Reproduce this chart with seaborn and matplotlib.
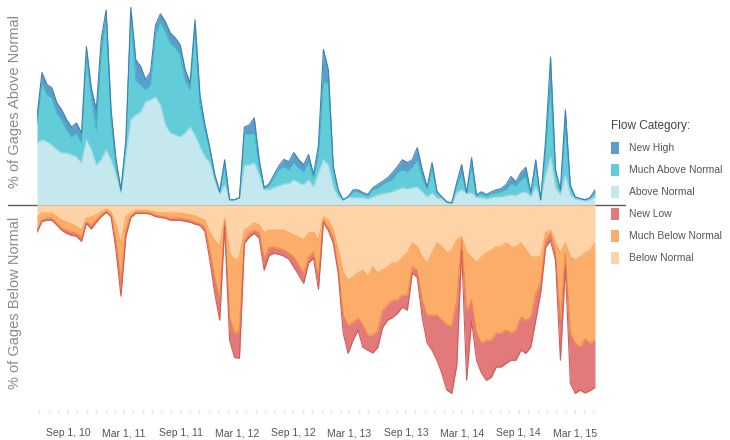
import matplotlib

matplotlib.use("Agg")

import matplotlib.dates as mdates
import matplotlib.pyplot as plt
import pandas as pd
import seaborn as sns
from matplotlib.lines import Line2D
from matplotlib.patches import Patch

START = "2010-05-24"
STEP = "16D"

# % of gages in each category (one value every 16 days)
above_normal = [
    15.5, 16.3, 15.8, 15, 13.8, 13, 13, 12.5, 12, 10.5,
    16.3, 13.8, 10, 11.3, 13.8, 11.3, 7.5, 3, 12.5, 21.3,
    22.5, 23.3, 25.8, 26.3, 27, 25, 20, 18, 17.5, 17,
    18, 19.5, 17.5, 14.5, 12, 10.5, 6.3, 2.8, 5, 1.3,
    1.3, 1.8, 10, 10, 10.5, 7.5, 3.8, 3.8, 4.3, 4.8,
    5.3, 5.3, 6.3, 5.5, 5, 6.3, 4.5, 8, 11.3, 10,
    4.5, 2, 1.3, 2, 1.8, 1.8, 1.8, 1.5, 2, 2.5,
    2.8, 3, 3.3, 3.8, 4.3, 4, 4.3, 4.5, 3.3, 2,
    3, 1.8, 1.5, 0.5, 0.5, 3, 3.8, 3, 3, 1.8,
    1.8, 1.5, 1.8, 2, 2, 2.3, 2.5, 2.3, 3, 3.3,
    2, 4.5, 1.3, 7.5, 12, 4.3, 2.5, 7.5, 2.5, 1.5,
    1.3, 1, 1.3, 2,
]
much_above = [
    5, 14.3, 11.8, 11.8, 9.3, 8.3, 5.8, 4.5, 6, 5,
    20.8, 13, 8.8, 26.3, 33, 10, 2.5, 0.5, 2.5, 26.3,
    8.8, 6.8, 3, 3.8, 15.5, 20.8, 23.3, 22.5, 21.8, 20.5,
    13.3, 9.3, 26.8, 10.5, 6.8, 3.3, 0.5, 0.3, 5, 0,
    0, 0, 8, 7.5, 7.5, 2.5, 0.3, 1, 2.5, 4,
    4.3, 3.5, 4.3, 3.8, 3.3, 4.3, 2.3, 4.5, 19.3, 20.5,
    4.3, 1.5, 0, 0, 1.5, 1.5, 1, 0.8, 1.8, 1.8,
    2.3, 2.8, 3, 4.3, 4.5, 4.3, 5, 6.8, 3.8, 2,
    5.8, 1.3, 0.5, 0.3, 0, 1.8, 3.8, 0, 6.5, 0.5,
    1, 0.8, 1, 1, 1.3, 1.5, 2.8, 2.5, 3.3, 3.8,
    0.8, 5.5, 0, 6.3, 18, 4, 1, 12.5, 2, 0.5,
    0.3, 0.3, 0.5, 1,
]
new_high = [
    1.5, 2.5, 2.5, 2.5, 2.5, 2.5, 2.5, 2.5, 2.5, 2.5,
    2.5, 2.5, 5, 3.8, 2, 2.5, 1.3, 0.3, 1.3, 1.8,
    5, 4.5, 2.5, 3.3, 2.5, 2, 2.5, 2.5, 2.5, 2.5,
    2.5, 1.8, 2, 2.5, 1.3, 0.5, 0.8, 0.3, 1.3, 0,
    0, 0, 1.5, 2.5, 3.8, 1.3, 0.3, 0.5, 0.8, 1,
    1.8, 2, 2.5, 2, 1.8, 2, 0.8, 2.5, 8.3, 3.3,
    0.8, 0.3, 0, 0, 0.5, 0.5, 0.3, 0.3, 0.5, 0.8,
    0.8, 1, 1.8, 1.5, 2.5, 2.3, 2, 3, 1.8, 0.5,
    1.8, 0.3, 0, 0, 0, 0.8, 2.5, 0, 2.3, 0.3,
    0.5, 0.3, 0.5, 0.8, 0.8, 1.3, 1.8, 1, 1.8, 2.3,
    0.3, 1.3, 0, 2.5, 7, 0.5, 0.3, 3.8, 0.5, 0,
    0, 0, 0, 0.8,
]
below_normal = [
    3, 2, 2, 2, 3, 3.8, 4.3, 4.8, 5.5, 6.3,
    3.3, 3, 2.5, 1.8, 1, 1.8, 5, 10, 3, 2,
    1.3, 1.3, 1.3, 1.5, 1.8, 2, 2, 2, 2, 2,
    2.3, 2.5, 2.8, 3.3, 3.8, 7, 8.8, 10.5, 3.3, 12,
    13.8, 13, 6.3, 5.5, 4.5, 5, 7, 6.3, 6.3, 6.3,
    6.3, 7, 7.5, 8, 8.8, 7, 6.8, 8.8, 3, 3.8,
    6.3, 11.3, 17, 18.8, 18, 17, 16.3, 18, 15.5, 17,
    16.3, 15.5, 14.5, 14.5, 13, 12, 9.5, 10.5, 13, 14.5,
    12, 9.5, 10.5, 12, 11.3, 8.8, 8, 12, 13, 14.5,
    13, 12, 11.3, 10.5, 10.5, 9.5, 10.5, 10.5, 9.5, 11.3,
    13, 13, 13, 7, 6.3, 9.5, 12, 9.5, 13, 13.8,
    13, 12, 11.3, 9.5,
]
much_below = [
    3.3, 1.8, 1.3, 1.3, 1.5, 2, 2, 2, 1.5, 1.8,
    1, 2, 1.3, 0.8, 0.5, 0.8, 3.8, 8.8, 3.3, 0.8,
    0.5, 0.5, 0.5, 0.5, 0.8, 0.8, 1, 1.3, 1.3, 1.3,
    1.3, 1.3, 1.5, 1.3, 1.8, 4.3, 9.3, 13.3, 1, 16,
    18.3, 18.3, 2.5, 1.5, 1.8, 1.8, 6.3, 4.3, 4.3, 4.5,
    5, 5, 5.5, 7, 8.3, 6, 5, 9.3, 0.8, 1.8,
    1.8, 4.3, 10.5, 11.3, 11.3, 11.3, 13.8, 14.5, 17, 14.3,
    10, 9.5, 9.3, 9.3, 9.5, 10.5, 6, 5.8, 10.8, 13,
    15.5, 18, 18.3, 18, 18.8, 15, 0.8, 14.3, 10.8, 17.5,
    21.5, 21.8, 22.5, 21.5, 21.5, 21.8, 21.5, 20.8, 18.5, 17.5,
    15, 9, 6.5, 1.8, 0.8, 2.5, 16.8, 2.5, 19, 20.8,
    22.5, 21.5, 23.3, 24.3,
]
new_low = [
    0.5, 0.3, 0.5, 0.5, 0.5, 0.5, 0.8, 0.8, 0.8, 1,
    0.3, 1, 0.5, 0.3, 0.3, 0.3, 2.5, 4, 1.5, 0.3,
    0.3, 0.3, 0.3, 0.3, 0.3, 0.3, 0.3, 0.5, 0.5, 0.5,
    0.5, 0.5, 0.5, 0.5, 1, 2.5, 4, 5, 1, 5.8,
    6, 7, 0.8, 1, 0.8, 1.5, 3, 2, 1.5, 1.5,
    1.5, 1.5, 2.5, 2.5, 2.5, 1.5, 1.5, 3, 0.5, 0.8,
    1.5, 1.5, 4.5, 7, 4.5, 3, 5.5, 3.8, 4.5, 4.3,
    4.3, 3.8, 4.3, 3.3, 3, 3.8, 1.5, 1.8, 4.3, 7,
    8.8, 11.3, 13.3, 16.3, 17, 16.3, 2.5, 17.5, 5, 6.8,
    7.5, 10, 9.3, 8.5, 8.5, 8.3, 6.8, 7.5, 8.3, 8.3,
    7.5, 6.8, 2.5, 1.8, 1.8, 1.8, 10, 3.5, 12.5, 12.5,
    10.8, 13.5, 11.8, 11.8,
]

TICK_DATES = [
    "2010-09-01", "2011-03-01", "2011-09-01", "2012-03-01", "2012-09-01",
    "2013-03-01", "2013-09-01", "2014-03-01", "2014-09-01", "2015-03-01",
]
TICK_LABELS = [
    "Sep 1, 10", "Mar 1, 11", "Sep 1, 11", "Mar 1, 12", "Sep 1, 12",
    "Mar 1, 13", "Sep 1, 13", "Mar 1, 14", "Sep 1, 14", "Mar 1, 15",
]

CATEGORIES = [
    "New High", "Much Above Normal", "Above Normal",
    "New Low", "Much Below Normal", "Below Normal",
]
FILL = {
    "New High": "#5b9ec9",
    "Much Above Normal": "#62cdd8",
    "Above Normal": "#c4e8ee",
    "New Low": "#e27a7c",
    "Much Below Normal": "#fbad69",
    "Below Normal": "#fdd3a7",
}
EDGE = {
    "New High": "#3f7fb6",
    "Much Above Normal": "#3ab9c9",
    "Above Normal": "#9fdbe4",
    "New Low": "#d65a55",
    "Much Below Normal": "#f08a40",
    "Below Normal": "#f8a458",
}


def main():
    sns.set_theme(style="white")
    plt.rcParams["font.family"] = ["Liberation Sans", "DejaVu Sans"]

    dates = pd.date_range(START, periods=len(above_normal), freq=STEP)
    df = pd.DataFrame(
        {
            "date": dates,
            "Above Normal": above_normal,
            "Much Above Normal": much_above,
            "New High": new_high,
            "Below Normal": below_normal,
            "Much Below Normal": much_below,
            "New Low": new_low,
        }
    )

    # stacked boundaries
    bounds = pd.DataFrame({"date": dates})
    bounds["Above Normal"] = df["Above Normal"]
    bounds["Much Above Normal"] = bounds["Above Normal"] + df["Much Above Normal"]
    bounds["New High"] = bounds["Much Above Normal"] + df["New High"]
    bounds["Below Normal"] = -df["Below Normal"]
    bounds["Much Below Normal"] = bounds["Below Normal"] - df["Much Below Normal"]
    bounds["New Low"] = bounds["Much Below Normal"] - df["New Low"]

    fig = plt.figure(figsize=(7.3, 4.4), dpi=100)
    ax = fig.add_axes([37 / 730, 30 / 440, 558 / 730, 405 / 440])
    ax.patch.set_alpha(0)

    zero = pd.Series(0.0, index=df.index)
    layers = [
        (zero, "Above Normal"),
        ("Above Normal", "Much Above Normal"),
        ("Much Above Normal", "New High"),
        (zero, "Below Normal"),
        ("Below Normal", "Much Below Normal"),
        ("Much Below Normal", "New Low"),
    ]
    for lo, hi in layers:
        lo_vals = lo if isinstance(lo, pd.Series) else bounds[lo]
        ax.fill_between(dates, lo_vals, bounds[hi], color=FILL[hi], lw=0, zorder=1)

    long = bounds.melt(id_vars="date", var_name="edge", value_name="value")
    sns.lineplot(
        data=long,
        x="date",
        y="value",
        hue="edge",
        palette=EDGE,
        linewidth=0.8,
        legend=False,
        ax=ax,
        zorder=2,
    )

    ax.set_xlim(dates[0], dates[-1])
    ax.set_ylim(-51.25, 50)
    ax.set_xlabel("")
    ax.set_ylabel("")
    ax.set_yticks([])
    for side in ["top", "right", "left", "bottom"]:
        ax.spines[side].set_visible(False)

    ax.set_xticks(pd.to_datetime(TICK_DATES))
    ax.set_xticklabels(TICK_LABELS)
    ax.xaxis.set_minor_locator(mdates.MonthLocator())
    ax.tick_params(
        axis="x", which="both", bottom=True, length=3, color="#e6e6e6",
        pad=10, labelsize=7.5, labelcolor="#555555",
    )

    # zero line running under the chart, out to the legend
    fig.add_artist(
        Line2D([8 / 730, 625 / 730], [1 - 205 / 440] * 2,
               color="#5a5a5a", lw=1.0, zorder=-1)
    )

    fig.text(15 / 730, 1 - 102 / 440, "% of Gages Above Normal", rotation=90,
             ha="center", va="center", fontsize=10.5, color="#8a8a8a")
    fig.text(15 / 730, 1 - 303 / 440, "% of Gages Below Normal", rotation=90,
             ha="center", va="center", fontsize=10.5, color="#8a8a8a")

    handles = [Patch(facecolor=FILL[c], edgecolor="none") for c in CATEGORIES]
    leg = fig.legend(
        handles,
        CATEGORIES,
        loc="upper left",
        bbox_to_anchor=(611 / 730, 1 - 120 / 440),
        frameon=False,
        title="Flow Category:",
        alignment="left",
        fontsize=7.5,
        title_fontsize=8.5,
        handlelength=0.8,
        handleheight=1.4,
        handletextpad=0.9,
        labelspacing=0.95,
        borderpad=0,
        borderaxespad=0,
    )
    leg.get_title().set_color("#444444")
    for t in leg.get_texts():
        t.set_color("#555555")

    fig.savefig("out.png", dpi=100)


main()
